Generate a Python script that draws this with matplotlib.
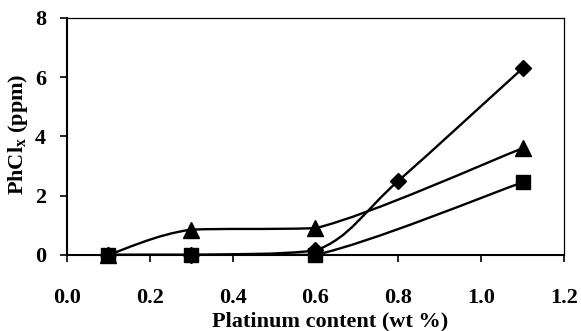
import numpy as np
import matplotlib
matplotlib.use("Agg")
import matplotlib.pyplot as plt
from matplotlib.path import Path
from matplotlib.patches import PathPatch

# data
pt_diamond = [0.1, 0.3, 0.6, 0.8, 1.1]
phcl_diamond = [0.0, 0.0, 0.15, 2.5, 6.3]
pt_triangle = [0.1, 0.3, 0.6, 1.1]
phcl_triangle = [0.0, 0.85, 0.9, 3.6]
pt_square = [0.1, 0.3, 0.6, 1.1]
phcl_square = [0.0, 0.0, 0.0, 2.45]

x_ticks = [0.0, 0.2, 0.4, 0.6, 0.8, 1.0, 1.2]
y_ticks = [0, 2, 4, 6, 8]

plt.rcParams['font.family'] = ['Liberation Serif', 'DejaVu Serif']
plt.rcParams['font.weight'] = 'bold'
plt.rcParams['mathtext.fontset'] = 'custom'
plt.rcParams['mathtext.rm'] = 'Liberation Serif:bold'
plt.rcParams['mathtext.bf'] = 'Liberation Serif:bold'
plt.rcParams['mathtext.default'] = 'bf'


def smooth_path(xs, ys):
    # smoothed line like excel: cubic bezier through the points,
    # control heights kept inside each segment so flat parts stay flat
    p = np.column_stack([xs, ys])
    n = len(p)
    verts = [tuple(p[0])]
    codes = [Path.MOVETO]
    for i in range(n - 1):
        p0 = p[i - 1] if i > 0 else p[i]
        p1 = p[i]
        p2 = p[i + 1]
        p3 = p[i + 2] if i + 2 < n else p[i + 1]
        c1 = p1 + (p2 - p0) / 6.0
        c2 = p2 - (p3 - p1) / 6.0
        lo, hi = min(p1[1], p2[1]), max(p1[1], p2[1])
        c1[1] = np.clip(c1[1], lo, hi)
        c2[1] = np.clip(c2[1], lo, hi)
        verts += [tuple(c1), tuple(c2), tuple(p2)]
        codes += [Path.CURVE4] * 3
    return Path(verts, codes)


fig = plt.figure(figsize=(5.81, 3.31), dpi=100)
ax = fig.add_axes([0.115, 0.23, 0.856, 0.716])

for xs, ys, m, ms in [(pt_diamond, phcl_diamond, 'D', 8.5),
                      (pt_triangle, phcl_triangle, '^', 11),
                      (pt_square, phcl_square, 's', 10.5)]:
    ax.add_patch(PathPatch(smooth_path(xs, ys), fill=False, lw=1.7,
                           edgecolor='black', zorder=3))
    ax.plot(xs, ys, linestyle='none', marker=m, ms=ms, color='black',
            zorder=4, clip_on=False)

ax.set_xlim(0, 1.2)
ax.set_ylim(0, 8)
ax.set_xticks(x_ticks)
ax.set_yticks(y_ticks)
ax.set_xticklabels(['%.1f' % v for v in x_ticks])
ax.set_yticklabels([str(v) for v in y_ticks])
ax.tick_params(axis='x', direction='out', length=5, width=1.2, pad=19, labelsize=16)
ax.tick_params(axis='y', direction='out', length=5, width=1.2, pad=10, labelsize=16)

ax.spines['left'].set_linewidth(1.5)
ax.spines['bottom'].set_linewidth(1.5)
ax.spines['top'].set_linewidth(0.9)
ax.spines['right'].set_linewidth(0.9)
ax.spines['bottom'].set_zorder(5)

ax.set_xlabel('Platinum content (wt %)', fontsize=16, fontweight='bold')
ax.set_ylabel('PhCl$_\\mathbf{x}$ (ppm)', fontsize=16, fontweight='bold')
ax.xaxis.set_label_coords(0.53, -0.24)
ax.yaxis.set_label_coords(-0.074, 0.51)

fig.savefig('out.png', dpi=100)
